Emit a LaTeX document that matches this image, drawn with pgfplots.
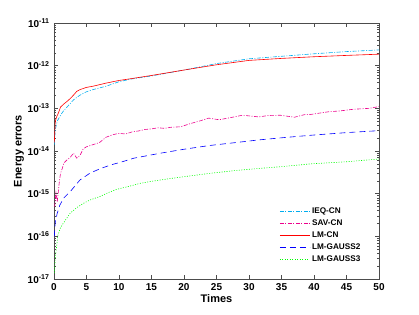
\documentclass[border=0pt]{standalone}
\usepackage{fontspec}
\setmainfont{Liberation Sans}
\usepackage{pgfplots}
\pgfplotsset{compat=1.18}
\definecolor{axgray}{gray}{0.3}
\begin{document}
\begin{tikzpicture}
\useasboundingbox (-54pt,-35pt) rectangle (365pt,279pt);
\begin{axis}[
  at={(0pt,0pt)}, anchor=south west,
  scale only axis, width=325pt, height=256pt,
  xmin=0, xmax=50, ymode=log, ymin=1e-17, ymax=1e-11,
  xtick={0,5,...,50},
  ytick={1e-17,1e-16,1e-15,1e-14,1e-13,1e-12,1e-11},
  yticklabels={\textbf{10}\textsuperscript{\textbf{-17}},\textbf{10}\textsuperscript{\textbf{-16}},\textbf{10}\textsuperscript{\textbf{-15}},\textbf{10}\textsuperscript{\textbf{-14}},\textbf{10}\textsuperscript{\textbf{-13}},\textbf{10}\textsuperscript{\textbf{-12}},\textbf{10}\textsuperscript{\textbf{-11}}},
  /pgf/number format/assume math mode=true,
  tick label style={font=\fontsize{10}{12}\selectfont\bfseries},
  xticklabel style={yshift=-1pt},
  yticklabel style={xshift=-1pt},
  tick align=inside, major tick length=4pt, minor tick length=2pt,
  axis line style={axgray, line width=0.6pt},
  every tick/.style={axgray, line width=0.5pt},
  xlabel={\textbf{Times}}, ylabel={\textbf{Energy errors}},
  label style={font=\fontsize{11}{13}\selectfont},
  xlabel style={yshift=3pt},
  ylabel style={yshift=-3pt},
  legend style={draw=none, fill=none, at={(0.69,0.29)}, anchor=north west, row sep=0.8pt, inner sep=1pt, font=\fontsize{8.2}{9.5}\selectfont},
  legend cell align=left,
  legend image code/.code={\begin{scope}[#1]\pgfsetstrokecolor{.}\draw (0pt,0pt) -- (30pt,0pt);\end{scope}},
]
\addplot[cyan, line width=0.6pt, dash pattern=on 4pt off 1.5pt on 1pt off 1.5pt] coordinates {
(0.05,1.41e-14)(0.2,3.2e-14)(0.5,5.0e-14)(1,6.9e-14)(1.5,8.9e-14)(2,1.07e-13)(3,1.58e-13)(4,2.04e-13)(5,2.45e-13)(6,2.75e-13)(8,3.3e-13)(10,4.2e-13)(12,4.9e-13)(15,5.75e-13)(20,7.9e-13)(25,1.12e-12)(30,1.45e-12)(35,1.66e-12)(40,1.9e-12)(45,2.14e-12)(50,2.34e-12)};
\addlegendentry{\textbf{IEQ-CN}}
\addplot[magenta, line width=0.6pt, dash pattern=on 4pt off 1.5pt on 1pt off 1.5pt] coordinates {
(0.1,5.0e-16)(0.3,1.05e-15)(0.5,6.3e-16)(0.8,1.78e-15)(1.0,3.0e-15)(1.3,4.0e-15)(1.5,5.2e-15)(2,6.2e-15)(2.5,7.1e-15)(3,8.9e-15)(3.5,6.8e-15)(4,7.9e-15)(4.5,1.12e-14)(5,1.26e-14)(6,1.41e-14)(7,1.58e-14)(8,2.1e-14)(9,2.4e-14)(10,2.6e-14)(11,2.5e-14)(12,2.8e-14)(13,2.95e-14)(14,3.2e-14)(15,3.3e-14)(16,3.5e-14)(17,3.4e-14)(18,3.6e-14)(19.5,3.7e-14)(21,4.4e-14)(22.5,5.1e-14)(23.8,5.9e-14)(25.4,5.4e-14)(27,6.0e-14)(29,6.9e-14)(31.5,6.3e-14)(33,6.8e-14)(34.8,6.9e-14)(37,6.2e-14)(38.5,7.1e-14)(39.5,7.2e-14)(42.2,8.3e-14)(44,8.7e-14)(46,9.5e-14)(48.5,1.0e-13)(50,1.1e-13)};
\addlegendentry{\textbf{SAV-CN}}
\addplot[red, line width=0.6pt] coordinates {
(0.05,1.58e-14)(0.2,5.0e-14)(0.4,6.3e-14)(0.7,7.9e-14)(1,1.07e-13)(1.5,1.26e-13)(2,1.45e-13)(2.5,1.7e-13)(3,2.04e-13)(3.5,2.5e-13)(4,2.75e-13)(5,3.1e-13)(6,3.3e-13)(8,3.9e-13)(10,4.5e-13)(12,5.0e-13)(15,5.9e-13)(20,7.9e-13)(25,1.05e-12)(30,1.33e-12)(35,1.48e-12)(40,1.62e-12)(45,1.74e-12)(50,1.86e-12)};
\addlegendentry{\textbf{LM-CN}}
\addplot[blue, line width=0.6pt, dash pattern=on 6pt off 4pt] coordinates {
(0.05,1.0e-16)(0.2,2.2e-16)(0.5,3.5e-16)(0.9,5.4e-16)(1.5,7.9e-16)(2.5,1.12e-15)(4,2.1e-15)(5.5,3.0e-15)(7,3.8e-15)(8.7,4.7e-15)(10.5,5.6e-15)(12.3,6.8e-15)(14,7.6e-15)(16.4,8.9e-15)(20,1.1e-14)(24,1.35e-14)(28,1.58e-14)(31.5,1.82e-14)(35,2.04e-14)(39.5,2.34e-14)(45,2.7e-14)(50,3.0e-14)};
\addlegendentry{\textbf{LM-GAUSS2}}
\addplot[green, line width=0.6pt, dash pattern=on 1pt off 1.5pt] coordinates {
(0.05,1.38e-17)(0.2,3.2e-17)(0.4,5.75e-17)(0.6,1.07e-16)(1.0,1.58e-16)(1.4,2.0e-16)(2.5,3.5e-16)(3.5,4.7e-16)(4.5,5.9e-16)(5.5,7.1e-16)(7,8.5e-16)(8.3,1.05e-15)(9.6,1.26e-15)(11.5,1.48e-15)(13.2,1.74e-15)(15,1.95e-15)(17.3,2.2e-15)(20,2.5e-15)(24,3.0e-15)(28,3.5e-15)(31.5,3.9e-15)(35,4.3e-15)(39.5,5.0e-15)(45,5.6e-15)(50,6.5e-15)};
\addlegendentry{\textbf{LM-GAUSS3}}
\end{axis}
\end{tikzpicture}
\end{document}
